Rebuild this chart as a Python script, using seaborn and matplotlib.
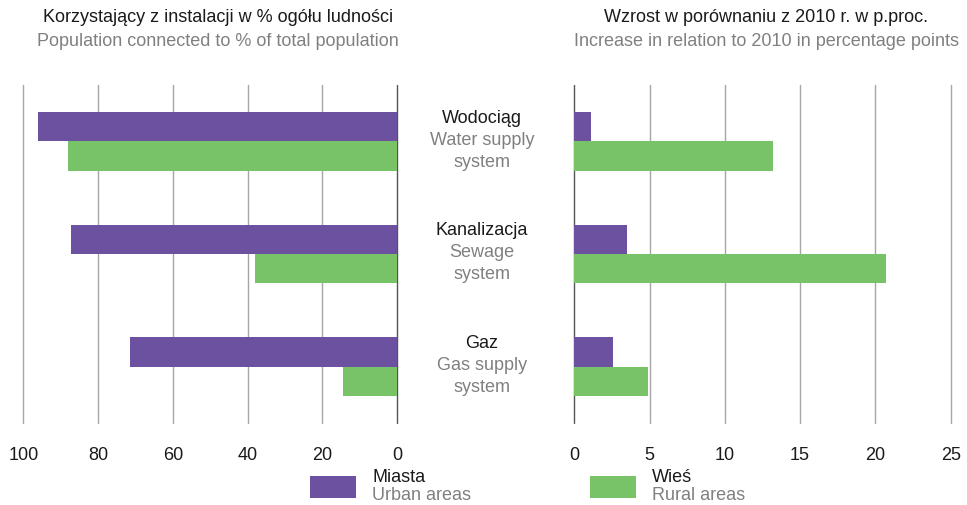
import matplotlib
matplotlib.use("Agg")
import matplotlib.pyplot as plt
from matplotlib.patches import Rectangle
import seaborn as sns
import pandas as pd

categories = ["Wodociąg", "Kanalizacja", "Gaz"]
categories_en = [["Water supply", "system"], ["Sewage", "system"], ["Gas supply", "system"]]
series = ["Miasta", "Wieś"]
series_en = ["Urban areas", "Rural areas"]
share_urban = [96.0, 87.3, 71.5]
share_rural = [88.0, 38.0, 14.5]
incr_urban = [1.1, 3.5, 2.6]
incr_rural = [13.2, 20.7, 4.9]
left_ticks = [100, 80, 60, 40, 20, 0]
right_ticks = [0, 5, 10, 15, 20, 25]

PURPLE = "#6C51A0"
GREEN = "#78C267"
BLACK = "#1a1a1a"
GREY = "#808080"
FS = 13

sns.set_style("white")
plt.rcParams["font.family"] = ["Liberation Sans", "DejaVu Sans"]

def frame(u, r):
    return pd.DataFrame({
        "cat": categories * 2,
        "val": list(u) + list(r),
        "series": [series[0]] * 3 + [series[1]] * 3,
    })

fig = plt.figure(figsize=(9.67, 5.05), dpi=100)
ax1 = fig.add_axes([0.0243, 0.1624, 0.3862, 0.6693])
ax2 = fig.add_axes([0.5939, 0.1624, 0.3892, 0.6693])

pal = {series[0]: PURPLE, series[1]: GREEN}
for ax, df, ticks, lim in [
    (ax1, frame(share_urban, share_rural), left_ticks, (100, 0)),
    (ax2, frame(incr_urban, incr_rural), right_ticks, (0, 25)),
]:
    sns.barplot(data=df, x="val", y="cat", hue="series", palette=pal,
                orient="h", width=0.52, ax=ax, legend=False, saturation=1,
                linewidth=0, zorder=3)
    ax.set_xlim(*lim)
    ax.set_ylim(2.5, -0.5)
    ax.set_xticks(ticks)
    ax.set_xticklabels([str(t) for t in ticks], fontsize=FS, color=BLACK)
    ax.set_yticks([])
    ax.set_xlabel("")
    ax.set_ylabel("")
    for s in ax.spines.values():
        s.set_visible(False)
    ax.tick_params(axis="x", length=0, pad=17)
    for t in ticks:
        ax.axvline(t, color="#555555" if t == 0 else "#a6a6a6",
                   lw=1.0, zorder=1, clip_on=False)

# titles
fig.text(218 / 967, 1 - 18 / 505, "Korzystający z instalacji w % ogółu ludności",
         ha="center", va="center", fontsize=FS, color=BLACK)
fig.text(218 / 967, 1 - 41 / 505, "Population connected to % of total population",
         ha="center", va="center", fontsize=FS, color=GREY)
fig.text(766 / 967, 1 - 18 / 505, "Wzrost w porównaniu z 2010 r. w p.proc.",
         ha="center", va="center", fontsize=FS, color=BLACK)
fig.text(766 / 967, 1 - 41 / 505, "Increase in relation to 2010 in percentage points",
         ha="center", va="center", fontsize=FS, color=GREY)

# center category labels
for i, (pl, en) in enumerate(zip(categories, categories_en)):
    ax1.annotate(pl, xy=(1.0, i), xycoords=("axes fraction", "data"),
                 xytext=(85, 23), textcoords="offset pixels",
                 ha="center", va="center", fontsize=FS, color=BLACK)
    for j, line in enumerate(en):
        ax1.annotate(line, xy=(1.0, i), xycoords=("axes fraction", "data"),
                     xytext=(85, 1 - 22 * j), textcoords="offset pixels",
                     ha="center", va="center", fontsize=FS, color=GREY)

# legend
for x0, col, pl, en in [(310, PURPLE, series[0], series_en[0]),
                        (590, GREEN, series[1], series_en[1])]:
    fig.add_artist(Rectangle((x0 / 967, 1 - 498 / 505), 46 / 967, 22 / 505,
                             transform=fig.transFigure, color=col, lw=0))
    fig.text((x0 + 62) / 967, 1 - 478 / 505, pl, ha="left", va="center",
             fontsize=FS, color=BLACK)
    fig.text((x0 + 62) / 967, 1 - 496 / 505, en, ha="left", va="center",
             fontsize=FS, color=GREY)

fig.savefig("out.png", dpi=100)
